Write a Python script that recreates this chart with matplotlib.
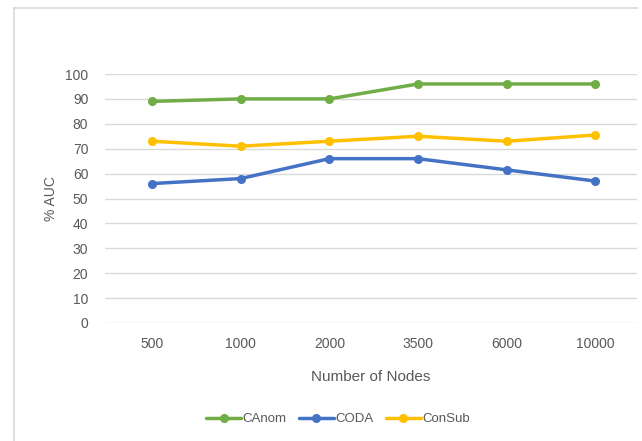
import matplotlib
matplotlib.use("Agg")
import matplotlib.pyplot as plt
from matplotlib.lines import Line2D

# Data
nodes = ["500", "1000", "2000", "3500", "6000", "10000"]
canom = [89, 90, 90, 96, 96, 96]
coda = [56, 58, 66, 66, 61.5, 57]
consub = [73, 71, 73, 75, 73, 75.5]

series = [
    ("CAnom", canom, "#70AD47"),
    ("CODA", coda, "#4472C4"),
    ("ConSub", consub, "#FFC000"),
]

plt.rcParams["font.family"] = ["Liberation Sans", "DejaVu Sans"]
text_color = "#595959"

fig = plt.figure(figsize=(6.42, 4.41), dpi=100)
fig.patch.set_facecolor("white")

# chart frame
fig.add_artist(Line2D([14 / 642, 14 / 642], [0, 1 - 8 / 441], color="#D9D9D9", lw=1.2,
                      transform=fig.transFigure))
fig.add_artist(Line2D([14 / 642, 637 / 642], [1 - 8 / 441, 1 - 8 / 441], color="#D9D9D9", lw=1.2,
                      transform=fig.transFigure))

ax = fig.add_axes([105 / 642, (441 - 323) / 441, (637 - 105) / 642, (323 - 74) / 441])
x = list(range(len(nodes)))
for name, vals, col in series:
    ax.plot(x, vals, color=col, lw=2.5, marker="o", markersize=5.5, label=name,
            solid_capstyle="round", zorder=3)

ax.set_xlim(-0.53, len(nodes) - 0.53)
ax.set_ylim(0, 100)
ax.set_yticks(range(0, 101, 10))
ax.set_xticks(x)
ax.set_xticklabels(nodes)
ax.grid(axis="y", color="#D9D9D9", lw=1)
ax.set_axisbelow(True)
for s in ax.spines.values():
    s.set_visible(False)
ax.tick_params(length=0, colors=text_color, labelsize=10)
ax.tick_params(axis="y", pad=12)
ax.tick_params(axis="x", pad=10)

ax.set_xlabel("Number of Nodes", color=text_color, fontsize=11, labelpad=14)
ax.set_ylabel("% AUC", color=text_color, fontsize=10, labelpad=5)

leg = ax.legend(loc="center", bbox_to_anchor=(338 / 642, 1 - 419 / 441),
                bbox_transform=fig.transFigure, ncol=3, frameon=False,
                fontsize=9.5, handlelength=2.6, columnspacing=1.0, handletextpad=0.1)
for t in leg.get_texts():
    t.set_color(text_color)

fig.savefig("out.png", dpi=100)
